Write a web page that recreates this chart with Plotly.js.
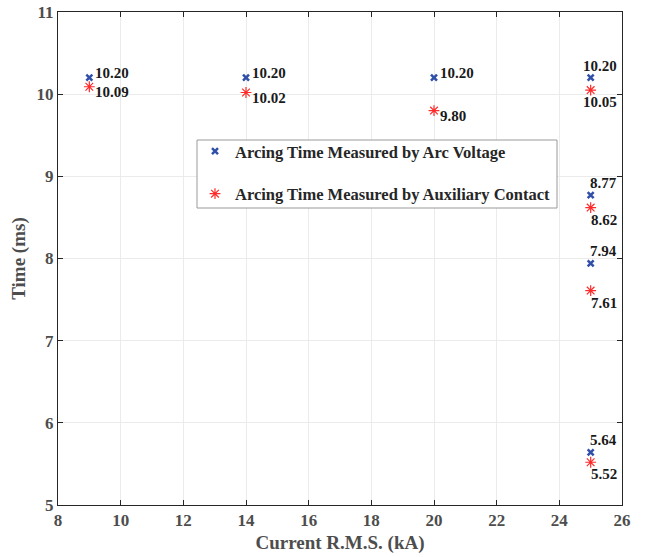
<!DOCTYPE html>
<html><head><meta charset="utf-8">
<script src="https://cdn.plot.ly/plotly-3.0.1.min.js"></script>
<style>body{margin:0;background:#fff}#c{width:646px;height:557px}</style>
</head><body><div id="c"></div>
<script>
const currents = [9, 14, 20, 25, 25, 25, 25];
const arcVoltageTime = [10.20, 10.20, 10.20, 10.20, 8.77, 7.94, 5.64];
const auxContactTime = [10.09, 10.02, 9.80, 10.05, 8.62, 7.61, 5.52];
const seriesNames = ['Arcing Time Measured by Arc Voltage', 'Arcing Time Measured by Auxiliary Contact'];

const F = 'Liberation Serif, Times New Roman, serif';
const lblFont = {family: F, size: 15, color: '#1a1a1a', weight: 'bold'};

const traces = [
  {x: currents, y: arcVoltageTime, name: seriesNames[0], mode: 'markers', legendgroup: 'a',
   marker: {symbol: 'x-thin-open', size: 6, color: '#2f4fa8', line: {width: 2.5, color: '#2f4fa8'}}},
  {x: currents, y: auxContactTime, name: seriesNames[1], mode: 'markers', legendgroup: 'b',
   marker: {symbol: 'asterisk-open', size: 9, color: '#ff2a2a', line: {width: 1.2, color: '#ff2a2a'}}}
];

function labels(xs, ys, above) {
  return xs.map((x, i) => {
    const edge = x === 25;
    return {
      x: x, y: ys[i], xref: 'x', yref: 'y', showarrow: false,
      text: ys[i].toFixed(2), font: lblFont,
      xanchor: edge ? 'right' : 'left',
      xshift: edge ? 28 : 4,
      yshift: (above ? 1 : -1) * (edge ? 12 : 5)
    };
  });
}
const annotations = labels(currents, arcVoltageTime, true).concat(labels(currents, auxContactTime, false));

const axisCommon = {
  showline: true, linecolor: '#262626', linewidth: 1, mirror: 'ticks',
  ticks: 'inside', ticklen: 5, tickcolor: '#262626',
  showgrid: true, gridcolor: '#ebebeb', zeroline: false,
  tickfont: {family: F, size: 17, color: '#4d4d4d', weight: 'bold'}
};

const pl = 58, pr = 622, pt = 12, pb = 505;
const px = v => (v - pl) / (pr - pl), py = v => (pb - v) / (pb - pt);

const layout = {
  width: 646, height: 557,
  margin: {l: 58, r: 24, t: 12, b: 52},
  paper_bgcolor: '#fff', plot_bgcolor: '#fff',
  showlegend: true,
  legend: {x: px(195), y: py(134), xanchor: 'left', yanchor: 'top',
    bgcolor: 'rgba(0,0,0,0)', borderwidth: 0,
    font: {family: F, size: 16.5, color: '#262626', weight: 'bold'},
    tracegroupgap: 18, itemwidth: 30},
  shapes: [{type: 'rect', xref: 'paper', yref: 'paper', layer: 'above',
    x0: px(197), x1: px(557), y0: py(208), y1: py(140),
    line: {color: '#9a9a9a', width: 1}, fillcolor: '#fff'}],
  annotations: annotations,
  xaxis: Object.assign({}, axisCommon, {range: [8, 26], dtick: 2,
    title: {text: 'Current R.M.S. (kA)', font: {family: F, size: 19, color: '#4d4d4d', weight: 'bold'}, standoff: 6}}),
  yaxis: Object.assign({}, axisCommon, {range: [5, 11], dtick: 1,
    title: {text: 'Time (ms)', font: {family: F, size: 19, color: '#4d4d4d', weight: 'bold'}, standoff: 5}})
};

Plotly.newPlot('c', traces, layout, {displayModeBar: false});
</script></body></html>
